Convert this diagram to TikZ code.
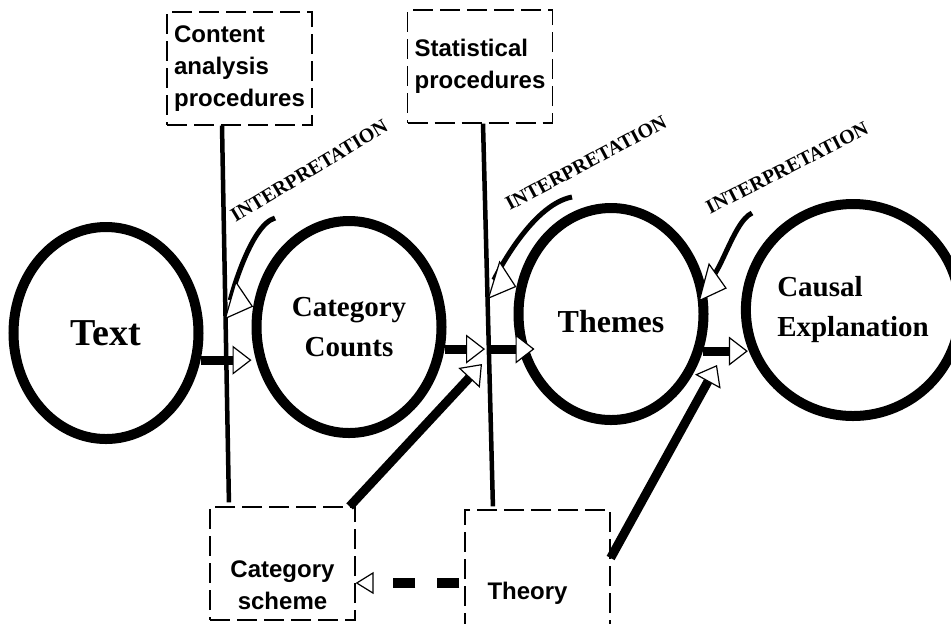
\documentclass[tikz,border=0pt]{standalone}
\usepackage{fontspec}
\setmainfont{Liberation Serif}
\newfontfamily\boxfont{Liberation Sans}
\usetikzlibrary{shapes.geometric,arrows.meta}

\begin{document}
\begin{tikzpicture}[x=0.5pt,y=-0.5pt,
	stage/.style={ellipse,draw,line width=5pt,minimum width=92.5pt,minimum height=106pt,inner sep=0pt,align=center,font=\bfseries\fontsize{14.5}{20}\selectfont},
	procbox/.style={draw,line width=0.6pt,dash pattern=on 10pt off 3.5pt,minimum width=72.5pt,minimum height=56.5pt,inner sep=0pt,font=\boxfont\bfseries\fontsize{12}{16}\selectfont},
	boxtext/.style={inner sep=0pt,align=center,font=\boxfont\bfseries\fontsize{12}{16}\selectfont},
	interp/.style={inner sep=0pt,font=\bfseries\fontsize{10}{11}\selectfont},
	divider/.style={line width=2.25pt},
	flow/.style={line width=4.5pt,-{Triangle[open,fill=white,length=9.5pt,width=14.5pt,line width=0.6pt]}},
	interparrow/.style={line width=2.5pt,-{Triangle[open,fill=white,length=12pt,width=20pt,line width=0.6pt]}},
	linkdash/.style={line width=5pt,dash pattern=on 11pt off 11pt,-{Triangle[open,fill=white,length=9pt,width=11pt,line width=0.6pt]}}]
	\useasboundingbox (0,0) rectangle (951,623);

	\node[stage,font=\bfseries\fontsize{19}{22}\selectfont] (text) at (106,333) {Text};
	\node[stage] (counts) at (349,327) {Category\\Counts};
	\node[stage,font=\bfseries\fontsize{16}{20}\selectfont,text height=19pt] (themes) at (611,314) {Themes};
	\node[stage,align=left] (causal) at (853,310) {Causal\\Explanation};

	\node[procbox,align=left] (content) at (239.5,68.5) {Content\\analysis\\procedures};
	\node[procbox,align=left] (stat) at (480,66.5) {Statistical\\procedures};
	\node[procbox] (scheme) at (282.5,563.5) {};
	\node[procbox,minimum height=60pt] (theory) at (537.5,570) {};
	\node[boxtext] (schemetext) at ([yshift=-10.75pt]scheme.center) {Category\\scheme};
	\node[boxtext] (theorytext) at ([xshift=-5pt,yshift=-11.75pt]theory.center) {Theory};

	\draw[divider,shorten >=2pt] ([xshift=-8.75pt]content.south) -- ([xshift=-26.75pt]scheme.north);
	\draw[divider,shorten >=1.5pt] ([xshift=1.5pt]stat.south) -- ([xshift=-22.25pt]theory.north);

	\coordinate (gate2) at (487,349);
	\coordinate (schemein) at (482,364);
	\coordinate (themesin) at (717,365);
	\coordinate (link) at ([yshift=-6.5pt]theory.west);
	\coordinate (i1) at (275,218);
	\coordinate (i2) at (572,197);
	\coordinate (i3) at (752,213);

	\draw[flow] (text.-16) -- (text.-16 -| counts.west);
	\draw[flow,shorten >=1pt] (counts.-13) -- (counts.-13 -| gate2);
	\draw[flow,shorten >=-10.5pt] (gate2) -- (gate2 -| themes.west);
	\draw[flow,shorten >=-3.5pt] (themes.-22) -- (themes.-22 -| causal.west);
	\draw[flow] ([xshift=-3pt]scheme.north east) -- (schemein);
	\draw[flow] ([yshift=6pt]theory.east) -- (themesin);
	\draw[linkdash,shorten <=2.5pt] (link) -- (link -| scheme.east);

	\node[interp,rotate=31] (interp1) at (309,171) {INTERPRETATION};
	\node[interp,rotate=28] (interp2) at (586,163) {INTERPRETATION};
	\node[interp,rotate=27] (interp3) at (787,168) {INTERPRETATION};
	\draw[interparrow] (i1) .. controls (250,225) and (230,300) .. (counts.168);
	\draw[interparrow] (i2) .. controls (530,205) and (494,280) .. (themes.164);
	\draw[interparrow,shorten >=8pt] (i3) .. controls (732,222) and (718,286) .. (causal.171);
\end{tikzpicture}
\end{document}
